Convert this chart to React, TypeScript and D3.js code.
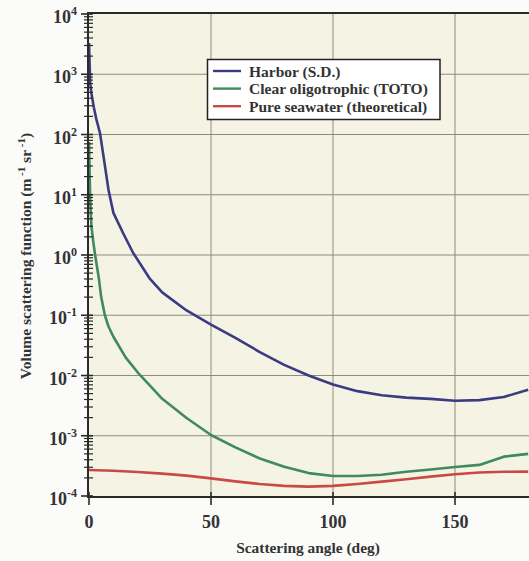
import React from "react";
import * as d3 from "d3";

const harborAngles = [0, 0.5, 1, 2, 3, 4.5, 6.3, 8, 10, 14, 18, 25, 30, 40, 50, 60, 70, 80, 90, 100, 110, 120, 130, 140, 150, 160, 170, 180];
const harborValues = [3300, 700, 480, 280, 180, 106, 35, 12, 5.0, 2.3, 1.1, 0.4, 0.24, 0.12, 0.07, 0.042, 0.0245, 0.015, 0.0100, 0.0071, 0.0055, 0.0047, 0.0043, 0.0041, 0.0038, 0.0039, 0.0044, 0.0058];

const clearAngles = [0, 0.5, 1, 1.8, 2.5, 4, 5, 6.5, 8, 10, 15, 20, 25, 30, 40, 50, 60, 70, 80, 90, 100, 110, 120, 130, 140, 150, 160, 170, 180];
const clearValues = [75, 8, 3, 1.6, 1.0, 0.42, 0.2, 0.1, 0.065, 0.044, 0.02, 0.0112, 0.0068, 0.0041, 0.00197, 0.00103, 0.00064, 0.00042, 0.000305, 0.00024, 0.000215, 0.000215, 0.000225, 0.000252, 0.000275, 0.000303, 0.000328, 0.00045, 0.0005];

const pureAngles = [0, 10, 20, 30, 40, 50, 60, 70, 80, 90, 100, 110, 120, 130, 140, 150, 160, 170, 180];
const pureValues = [0.00027, 0.000262, 0.00025, 0.000235, 0.000218, 0.000196, 0.000175, 0.000158, 0.000147, 0.000143, 0.000147, 0.000158, 0.000173, 0.00019, 0.00021, 0.00023, 0.000245, 0.000252, 0.000254];

const seriesNames = ["Harbor (S.D.)", "Clear oligotrophic (TOTO)", "Pure seawater (theoretical)"];
const seriesColors = ["#3b3b82", "#3f8a5e", "#c94a44"];

const xTicks = [0, 50, 100, 150];
const yDecades = [-4, -3, -2, -1, 0, 1, 2, 3, 4];

export default function App() {
  const W = 529, H = 561;
  const x = d3.scaleLinear().domain([0, 180]).range([89, 528.2]);
  const y = d3.scaleLog().domain([1e-4, 1e4]).range([496, 14]);
  const line = d3.line<[number, number]>().x(d => x(d[0])).y(d => y(d[1]));
  const series = [
    harborAngles.map((a, i) => [a, harborValues[i]] as [number, number]),
    clearAngles.map((a, i) => [a, clearValues[i]] as [number, number]),
    pureAngles.map((a, i) => [a, pureValues[i]] as [number, number]),
  ];
  const minor: number[] = [];
  for (let e = -4; e < 4; e++) for (let m = 2; m <= 9; m++) minor.push(m * Math.pow(10, e));
  const font = "Liberation Serif, Times New Roman, serif";
  const gridC = "#8c8c7c";
  const axisC = "#2a2a2a";
  const left = 89, top = 14, bottom = 497, right = 529;

  return (
    <svg width={W} height={H} style={{ position: "absolute", left: 0, top: 0 }} fontFamily={font}>
      <rect x={0} y={0} width={W} height={H} fill="#fbfbf9" />
      <rect x={left} y={top} width={right - left} height={bottom - top} fill="#f5f3e4" />
      {yDecades.filter(e => e > -4 && e < 4).map(e => (
        <line key={"gy" + e} x1={left} x2={right} y1={y(Math.pow(10, e))} y2={y(Math.pow(10, e))} stroke={gridC} strokeWidth={1} />
      ))}
      {xTicks.filter(t => t > 0).map(t => (
        <line key={"gx" + t} x1={x(t)} x2={x(t)} y1={top} y2={bottom} stroke={gridC} strokeWidth={1} />
      ))}
      {series.map((s, i) => (
        <path key={"s" + i} d={line(s) || ""} fill="none" stroke={seriesColors[i]} strokeWidth={2.6} strokeLinejoin="round" />
      ))}
      <line x1={left - 1} x2={right} y1={top - 1} y2={top - 1} stroke={axisC} strokeWidth={2} />
      <line x1={left - 1} x2={left - 1} y1={top - 2} y2={bottom + 1} stroke={axisC} strokeWidth={2} />
      <line x1={left - 2} x2={right} y1={bottom} y2={bottom} stroke={axisC} strokeWidth={2} />
      {minor.map((v, i) => (
        <line key={"mt" + i} x1={84} x2={93} y1={y(v)} y2={y(v)} stroke={axisC} strokeWidth={1.2} />
      ))}
      {yDecades.map(e => (
        <line key={"Mt" + e} x1={81} x2={93} y1={y(Math.pow(10, e))} y2={y(Math.pow(10, e))} stroke={axisC} strokeWidth={1.6} />
      ))}
      {yDecades.map(e => (
        <text key={"yl" + e} x={77} y={y(Math.pow(10, e)) + 9} textAnchor="end" fontSize={18} fontWeight="bold" fill="#333">
          10<tspan fontSize={12} dy={-8}>{String(e)}</tspan>
        </text>
      ))}
      {xTicks.map(t => (
        <line key={"xt" + t} x1={x(t)} x2={x(t)} y1={492} y2={505} stroke={axisC} strokeWidth={1.6} />
      ))}
      {xTicks.map(t => (
        <text key={"xl" + t} x={x(t)} y={528} textAnchor="middle" fontSize={18} fontWeight="bold" fill="#333">{t}</text>
      ))}
      <text x={308} y={553} textAnchor="middle" fontSize={15.4} fontWeight="bold" fill="#333">Scattering angle (deg)</text>
      <text transform="translate(31,256) rotate(-90)" textAnchor="middle" fontSize={15.5} fontWeight="bold" fill="#333">
        Volume scattering function (m<tspan fontSize={11} dy={-6}> -1</tspan><tspan dy={6}> sr</tspan><tspan fontSize={11} dy={-6}> -1</tspan><tspan dy={6}>)</tspan>
      </text>
      <rect x={207.5} y={59.5} width={232.5} height={60} fill="#ffffff" stroke="#222" strokeWidth={1.5} />
      {seriesNames.map((n, i) => (
        <g key={"lg" + i}>
          <line x1={213} x2={241} y1={71 + i * 17.6} y2={71 + i * 17.6} stroke={seriesColors[i]} strokeWidth={2.4} />
          <text x={249} y={76.5 + i * 17.6} fontSize={15.5} fontWeight="bold" fill="#333">{n}</text>
        </g>
      ))}
    </svg>
  );
}
